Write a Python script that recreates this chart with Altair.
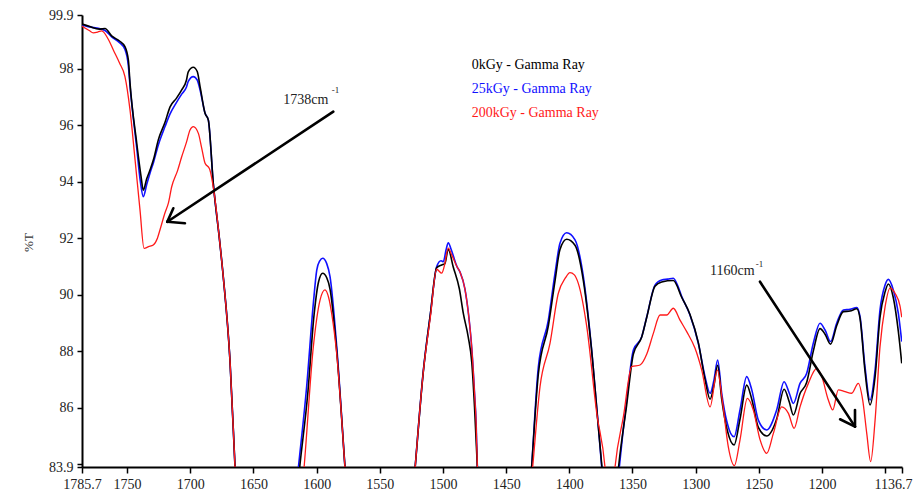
import altair as alt
import pandas as pd

SERIES = ["0kGy - Gamma Ray", "25kGy - Gamma Ray", "200kGy - Gamma Ray"]
COLORS = ["#000000", "#1010ff", "#ff1a1a"]

WN_0 = [1785.7, 1780, 1772, 1767.5, 1762, 1756, 1751.7, 1749, 1747.7, 1742.4,
        1739, 1737.2, 1734.5, 1731.9, 1729, 1725.3, 1720, 1716, 1711, 1706.8,
        1703, 1701.6, 1697.6, 1694.5, 1692, 1688.3, 1685.7, 1681.8, 1677, 1673.9,
        1668.6, 1664.6, 1660, 1640, 1621, 1613.5, 1607, 1602, 1598.5, 1595.2,
        1592, 1589.4, 1584.1, 1577.5, 1572, 1550, 1527, 1522.1, 1515.5, 1510,
        1505, 1501, 1498.5, 1495.8, 1492, 1487, 1483.9, 1480, 1477.2, 1475,
        1472.8, 1468, 1450, 1434, 1429.8, 1424.5, 1416.6, 1411.3, 1407.4, 1402.1,
        1395.5, 1388.9, 1382.3, 1377, 1374.2, 1367, 1361, 1354.6, 1349.3, 1342.7,
        1338.7, 1332.2, 1326.9, 1317.7, 1311, 1304.5, 1297.9, 1292.6, 1288.6, 1285.5,
        1282.6, 1279.4, 1275, 1269.6, 1264.9, 1259.6, 1255.6, 1250.4, 1243.8, 1235.9,
        1230, 1225.9, 1222.7, 1217.4, 1212.1, 1206.9, 1201.6, 1197.6, 1193.2, 1188.4,
        1183.1, 1177.8, 1172.5, 1169.9, 1166, 1162, 1158, 1154.1, 1150.1, 1147.5,
        1143.6, 1139.6, 1136.9]
T_0 = [99.58, 99.5, 99.4, 99.42, 99.15, 98.98, 98.78, 98.3, 97.49, 95.37,
       94.2, 93.7, 94.1, 94.41, 94.8, 95.48, 96.1, 96.65, 96.95, 97.25,
       97.6, 97.89, 98.05, 97.9, 97.3, 96.42, 96.18, 93.94, 92.0, 90.64,
       87.69, 83.91, 79.5, 72.0, 80.3, 83.85, 86.5, 89.3, 90.45, 90.76,
       90.6, 90.2, 88.0, 83.85, 80.3, 72.0, 81.2, 83.85, 87.3, 89.3,
       90.95, 91.05, 91.1, 91.61, 91.0, 90.2, 89.34, 88.5, 87.6, 86.0,
       83.91, 80.5, 72.0, 81.1, 83.91, 87.2, 88.9, 90.5, 91.6, 91.96,
       91.75, 90.5, 88.0, 85.3, 83.91, 80.8, 83.91, 86.1, 87.9, 88.5,
       89.2, 90.3, 90.45, 90.5, 89.9, 89.3, 88.3, 87.0, 86.3, 86.8,
       87.5, 86.3, 85.2, 84.68, 85.6, 86.8, 86.3, 85.3, 85.0, 85.6,
       86.65, 86.2, 85.74, 86.5, 86.9, 88.0, 88.8, 88.6, 88.25, 88.9,
       89.4, 89.42, 89.5, 89.15, 87.3, 86.1, 87.1, 89.2, 90.1, 90.38,
       89.9, 88.7, 87.57]

WN_25 = [1785.7, 1780, 1772, 1767.5, 1762, 1756, 1751.7, 1749, 1747.7, 1742.4,
         1739.5, 1737.2, 1734.5, 1731.9, 1729, 1725.3, 1720, 1716, 1711, 1706.8,
         1703, 1701.6, 1697.6, 1694.5, 1692, 1688.3, 1685.7, 1681.8, 1677, 1673.9,
         1668.6, 1664.6, 1660, 1640, 1622, 1614.5, 1607.9, 1602.6, 1599.9, 1597.5,
         1595.2, 1592, 1589.4, 1584.1, 1577.5, 1572, 1550, 1527, 1522.1, 1515.5,
         1510, 1505, 1501.5, 1499.7, 1497.5, 1495.8, 1493.5, 1489, 1486.5, 1482.6,
         1479.5, 1477.2, 1475, 1473.8, 1472.8, 1468, 1450, 1434, 1429.8, 1424.5,
         1416.6, 1411.3, 1407.4, 1402.1, 1395.5, 1388.9, 1382.3, 1377, 1374.4, 1367,
         1360.4, 1354.6, 1349.3, 1342.7, 1338.7, 1332.2, 1326.9, 1322, 1317.7, 1314,
         1311, 1304.5, 1297.9, 1292.6, 1288.6, 1285.5, 1282.6, 1279.4, 1275, 1269.6,
         1264.9, 1259.6, 1255.6, 1250.4, 1243.8, 1235.9, 1230, 1225.9, 1222.7, 1217.4,
         1212.1, 1206.9, 1201.6, 1197.6, 1193.2, 1188.4, 1183.1, 1177.8, 1172.5, 1169.9,
         1166, 1162, 1158, 1154.1, 1150.1, 1147.5, 1143.6, 1139.6, 1136.9]
T_25 = [99.55, 99.48, 99.42, 99.35, 99.12, 98.92, 98.68, 98.1, 97.4, 95.2,
        94.0, 93.47, 93.9, 94.3, 94.7, 95.3, 95.95, 96.4, 96.8, 97.1,
        97.35, 97.55, 97.72, 97.6, 97.2, 96.42, 96.18, 93.94, 92.0, 90.64,
        87.69, 83.91, 79.5, 72.0, 80.5, 83.85, 86.74, 89.69, 90.87, 91.2,
        91.29, 91.1, 90.64, 88.16, 83.85, 80.3, 72.0, 81.2, 83.85, 87.33,
        89.3, 90.99, 91.2, 91.17, 91.6, 91.84, 91.6, 91.0, 90.8, 90.2,
        89.2, 88.1, 86.5, 85.5, 83.91, 80.5, 72.0, 81.1, 83.91, 87.45,
        89.1, 90.76, 91.82, 92.19, 91.94, 90.64, 88.04, 85.33, 83.91, 80.5,
        83.91, 86.27, 88.04, 88.51, 89.22, 90.34, 90.52, 90.55, 90.58, 90.3,
        89.93, 89.28, 88.28, 87.1, 86.51, 86.98, 87.69, 86.51, 85.45, 84.97,
        85.92, 87.1, 86.63, 85.56, 85.21, 85.92, 86.92, 86.51, 86.15, 86.86,
        87.22, 88.28, 88.99, 88.75, 88.34, 88.99, 89.46, 89.48, 89.54, 89.22,
        87.45, 86.27, 87.33, 89.46, 90.34, 90.54, 90.17, 89.34, 88.34]

WN_200 = [1785.7, 1780, 1776.8, 1773, 1770.1, 1765, 1760.9, 1756, 1751.7, 1747.7,
          1743.7, 1739.8, 1736.6, 1733, 1729.3, 1726, 1724, 1720, 1717.4, 1714.7,
          1710, 1706.8, 1703, 1700.2, 1697.6, 1693.6, 1691, 1688.3, 1684.9, 1680.5,
          1677, 1673.9, 1668.6, 1664.6, 1660, 1640, 1618, 1610, 1602.6, 1597.3,
          1593.4, 1590.5, 1588.1, 1584.1, 1577.5, 1572, 1550, 1527, 1522.1, 1515.5,
          1510, 1505, 1501, 1499, 1495.8, 1493, 1489, 1486.5, 1482.6, 1479.5,
          1477.2, 1475, 1473.8, 1472.8, 1468, 1450, 1434, 1429, 1423.2, 1415.3,
          1408.7, 1403, 1399.5, 1396, 1392.9, 1386.2, 1378.3, 1371.8, 1368, 1363.8,
          1357.2, 1350.6, 1344, 1338.7, 1333.5, 1328.2, 1322.9, 1317.7, 1312.4, 1307.1,
          1300.5, 1295.2, 1288.6, 1282.9, 1278.6, 1274.2, 1269.4, 1264.9, 1259.1, 1254.4,
          1249, 1243.8, 1238.5, 1231.9, 1226.6, 1222.1, 1217.4, 1210.8, 1204.2, 1200.2,
          1195, 1191.5, 1187.1, 1181.8, 1176.5, 1171.3, 1167.8, 1164.6, 1161.5, 1158,
          1154.1, 1150.1, 1146.2, 1142.2, 1138.3, 1136.9]
T_200 = [99.5, 99.35, 99.27, 99.3, 99.34, 99.05, 98.66, 98.2, 97.72, 96.54,
         94.77, 93.0, 91.64, 91.7, 91.76, 92.0, 92.29, 92.9, 93.23, 93.82,
         94.4, 94.88, 95.4, 95.83, 95.95, 95.71, 95.2, 94.65, 94.47, 93.4,
         92.0, 90.64, 87.69, 83.91, 79.5, 72.0, 80.3, 83.85, 88.16, 89.81,
         90.17, 89.9, 89.34, 87.9, 83.85, 80.3, 72.0, 81.2, 83.85, 87.3,
         89.2, 90.9, 90.76, 91.0, 91.65, 91.4, 91.0, 90.8, 90.2, 89.2,
         88.1, 86.5, 85.5, 83.91, 80.5, 72.0, 81.5, 83.91, 86.74, 88.28,
         90.05, 90.6, 90.78, 90.7, 90.4, 88.87, 85.8, 83.91, 81.5, 83.91,
         85.68, 87.45, 87.51, 87.9, 88.63, 89.28, 89.28, 89.52, 89.1, 88.69,
         88.1, 87.33, 86.03, 87.33, 86.15, 84.62, 83.95, 84.86, 86.33, 85.92,
         84.86, 84.38, 85.09, 86.03, 85.8, 85.27, 86.03, 86.86, 87.39, 87.1,
         86.27, 85.92, 86.63, 86.57, 86.51, 86.86, 86.27, 85.09, 84.09, 85.56,
         88.16, 89.57, 90.23, 90.05, 89.6, 89.2]

X_TICKS = [1785.7, 1750, 1700, 1650, 1600, 1550, 1500, 1450, 1400, 1350, 1300, 1250, 1200, 1150, 1136.7]
Y_TICKS = [83.9, 84, 86, 88, 90, 92, 94, 96, 98, 99.9]
X_DOMAIN = [1136.7, 1785.7]
Y_DOMAIN = [83.9, 99.9]

# annotations (data units)
ARROW_X = [1586.8, 1249.1]
ARROW_Y = [96.48, 90.46]
ARROW_X2 = [1718.2, 1173.9]
ARROW_Y2 = [92.58, 85.33]
BARB_X = [1718.2, 1718.2, 1173.9, 1173.9]
BARB_Y = [92.58, 92.58, 85.33, 85.33]
BARB_X2 = [1713.4, 1704.2, 1173.9, 1185.7]
BARB_Y2 = [93.06, 92.53, 85.92, 85.59]
NOTE_TEXT = ["1738cm", "1160cm"]
NOTE_X = [1626.4, 1288.6]
NOTE_Y = [96.75, 90.7]
SUP_TEXT = ["-1", "-1"]
SUP_X = [1588.0, 1252.4]
SUP_Y = [97.14, 90.98]

FONT = "Liberation Serif"

xscale = alt.Scale(domain=X_DOMAIN, reverse=True, nice=False, zero=False)
yscale = alt.Scale(domain=Y_DOMAIN, nice=False, zero=False)
xaxis = alt.Axis(values=X_TICKS, title=None, grid=False,
                 labelExpr="datum.value == 1150 ? '' : toString(datum.value)",
                 labelAlign={"expr": "datum.value < 1140 ? 'right' : 'center'"},
                 labelOffset={"expr": "datum.value < 1140 ? 10 : 0"},
                 labelOverlap=False, labelFlush=False, tickSize=6, labelPadding=4)
yaxis = alt.Axis(values=Y_TICKS, title="%T", grid=False,
                 labelExpr="datum.value == 84 ? '' : toString(datum.value)",
                 labelOverlap=False, labelFlush=False, tickSize=5, labelPadding=4,
                 titleX=-50, titleY=227, titleAngle=-90, titleAlign="center",
                 titleBaseline="alphabetic", titleFontSize=13, titleFont=FONT,
                 titleFontWeight="normal", titleColor="#333")

X = alt.X("wn:Q", scale=xscale, axis=xaxis)
Y = alt.Y("t:Q", scale=yscale, axis=yaxis)

series_data = [(WN_0, T_0), (WN_25, T_25), (WN_200, T_200)]
widths = [1.6, 1.6, 1.3]
layers = []
for idx in [1, 0, 2]:
    wn, t = series_data[idx]
    df = pd.DataFrame({"wn": wn, "t": t})
    layers.append(
        alt.Chart(df).mark_line(clip=True, color=COLORS[idx], strokeWidth=widths[idx],
                                interpolate="monotone")
        .encode(x=X, y=Y)
    )

arrows = pd.DataFrame({"wn": ARROW_X, "t": ARROW_Y, "wn2": ARROW_X2, "t2": ARROW_Y2})
barbs = pd.DataFrame({"wn": BARB_X, "t": BARB_Y, "wn2": BARB_X2, "t2": BARB_Y2})
for d in (arrows, barbs):
    layers.append(
        alt.Chart(d).mark_rule(color="black", strokeWidth=2.6, strokeCap="round")
        .encode(x=X, y=Y, x2="wn2:Q", y2="t2:Q")
    )

notes = pd.DataFrame({"wn": NOTE_X, "t": NOTE_Y, "label": NOTE_TEXT})
layers.append(
    alt.Chart(notes).mark_text(align="left", baseline="alphabetic", font=FONT,
                               fontSize=14, color="#222")
    .encode(x=X, y=Y, text="label:N")
)
sups = pd.DataFrame({"wn": SUP_X, "t": SUP_Y, "label": SUP_TEXT})
layers.append(
    alt.Chart(sups).mark_text(align="left", baseline="alphabetic", font=FONT,
                              fontSize=9, color="#222")
    .encode(x=X, y=Y, text="label:N")
)

legend_y = [54, 78, 102]
for name, col, ly in zip(SERIES, COLORS, legend_y):
    layers.append(
        alt.Chart(pd.DataFrame({"label": [name]})).mark_text(
            align="left", baseline="alphabetic", font=FONT, fontSize=14, color=col)
        .encode(x=alt.value(389.7), y=alt.value(ly), text="label:N")
    )

chart = (
    alt.layer(*layers)
    .properties(width=820, height=452, autosize="none",
                padding={"left": 82, "top": 15, "right": 11, "bottom": 26},
                background="white")
    .configure_view(stroke=None)
    .configure_axis(domainColor="black", domainWidth=2, tickColor="black",
                    tickWidth=1.5, labelFont=FONT, labelFontSize=14,
                    labelColor="#222")
)

chart.save("out.html", embed_options={"renderer": "svg", "actions": False})
